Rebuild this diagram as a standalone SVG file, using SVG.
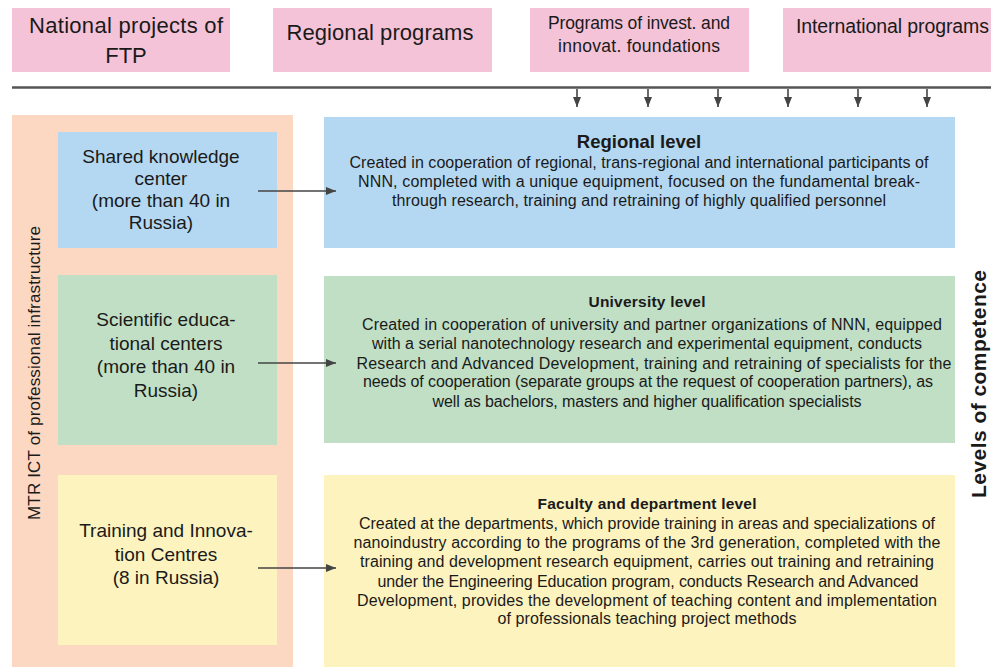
<svg xmlns="http://www.w3.org/2000/svg" width="991" height="667" viewBox="0 0 991 667">
  <defs>
    <marker id="ah" viewBox="0 0 10 8" refX="10" refY="4" markerWidth="10" markerHeight="8" markerUnits="userSpaceOnUse" orient="auto">
      <path d="M0,0 L10,4 L0,8 z" fill="#444"/>
    </marker>
    <style>
      text { font-family: "Liberation Sans", Arial, sans-serif; fill: #1a1a1a; }
      .src { fill: #f5c3d7; }
      .panel { fill: #fcd7c2; }
      .blue { fill: #b4d8f1; }
      .green { fill: #c0dfc5; }
      .yellow { fill: #fdf3bf; }
      .top { font-size: 22px; text-anchor: middle; }
      .topsm { font-size: 17.5px; text-anchor: middle; }
      .side { font-size: 19px; text-anchor: middle; }
      .title { font-size: 15.5px; font-weight: bold; text-anchor: middle; }
      .title-lg { font-size: 18.5px; font-weight: bold; text-anchor: middle; }
      .body { font-size: 16px; text-anchor: middle; }
      .vlab { font-size: 17px; text-anchor: middle; }
      .vlab-b { font-size: 21px; font-weight: bold; text-anchor: middle; }
      .conn { stroke: #444; stroke-width: 1.6; fill: none; marker-end: url(#ah); }
      .bar { stroke: #555; stroke-width: 2.6; }
    </style>
  </defs>

  <rect width="991" height="667" fill="#ffffff"/>

  <!-- funding sources -->
  <g id="src-ftp">
    <rect class="src" x="12" y="8" width="218" height="64"/>
    <text class="top" x="126" y="33" textLength="194">National projects of</text>
    <text class="top" x="126" y="63">FTP</text>
  </g>
  <g id="src-regional">
    <rect class="src" x="273" y="8" width="219" height="64"/>
    <text class="top" x="380" y="40" textLength="187">Regional programs</text>
  </g>
  <g id="src-foundations">
    <rect class="src" x="530" y="8" width="219" height="64"/>
    <text class="topsm" x="639" y="29" textLength="182">Programs of invest. and</text>
    <text class="topsm" x="639" y="52" textLength="162">innovat. foundations</text>
  </g>
  <g id="src-international">
    <rect class="src" x="783" y="8" width="208" height="64"/>
    <text x="796" y="33" font-size="19.5" textLength="193">International programs</text>
  </g>

  <!-- infrastructure column -->
  <g id="infrastructure">
    <rect class="panel" x="12" y="115" width="281" height="552"/>
    <text class="vlab" transform="translate(40,373) rotate(-90)" textLength="294">MTR ICT of professional infrastructure</text>
  </g>
  <g id="shared-knowledge">
    <rect class="blue" x="58" y="132" width="219" height="116"/>
    <text class="side" x="161" y="163">Shared knowledge</text>
    <text class="side" x="161" y="185">center</text>
    <text class="side" x="161" y="207">(more than 40 in</text>
    <text class="side" x="161" y="229">Russia)</text>
  </g>
  <g id="scientific-centers">
    <rect class="green" x="58" y="275" width="219" height="170"/>
    <text class="side" x="166" y="326">Scientific educa-</text>
    <text class="side" x="166" y="350">tional centers</text>
    <text class="side" x="166" y="373">(more than 40 in</text>
    <text class="side" x="166" y="397">Russia)</text>
  </g>
  <g id="training-centres">
    <rect class="yellow" x="58" y="475" width="219" height="170"/>
    <text class="side" x="166" y="537">Training and Innova-</text>
    <text class="side" x="166" y="561">tion Centres</text>
    <text class="side" x="166" y="584">(8 in Russia)</text>
  </g>

  <!-- competence levels -->
  <g id="regional-level">
    <rect class="blue" x="324" y="117" width="631" height="131"/>
    <text class="title-lg" x="639" y="148">Regional level</text>
    <text class="body" x="639" y="168" textLength="579">Created in cooperation of regional, trans-regional and international participants of</text>
    <text class="body" x="639" y="187" textLength="562">NNN, completed with a unique equipment, focused on the fundamental break-</text>
    <text class="body" x="639" y="206" textLength="494">through research, training and retraining of highly qualified personnel</text>
  </g>
  <g id="university-level">
    <rect class="green" x="324" y="276" width="631" height="167"/>
    <text class="title" x="647" y="307" textLength="117">University level</text>
    <text class="body" x="652" y="330" textLength="580">Created in cooperation of university and partner organizations of NNN, equipped</text>
    <text class="body" x="647" y="349" textLength="550">with a serial nanotechnology research and experimental equipment, conducts</text>
    <text class="body" x="654" y="369" textLength="595">Research and Advanced Development, training and retraining of specialists for the</text>
    <text class="body" x="648" y="387" textLength="570">needs of cooperation (separate groups at the request of cooperation partners), as</text>
    <text class="body" x="647" y="407" textLength="429">well as bachelors, masters and higher qualification specialists</text>
  </g>
  <g id="faculty-level">
    <rect class="yellow" x="324" y="475" width="631" height="192"/>
    <text class="title" x="647" y="509" textLength="219">Faculty and department level</text>
    <text class="body" x="647" y="529" textLength="576">Created at the departments, which provide training in areas and specializations of</text>
    <text class="body" x="647" y="548" textLength="587">nanoindustry according to the programs of the 3rd generation, completed with the</text>
    <text class="body" x="647" y="567" textLength="574">training and development research equipment, carries out training and retraining</text>
    <text class="body" x="648" y="587" textLength="541">under the Engineering Education program, conducts Research and Advanced</text>
    <text class="body" x="647" y="606" textLength="580">Development, provides the development of teaching content and implementation</text>
    <text class="body" x="647" y="624" textLength="299">of professionals teaching project methods</text>
  </g>
  <g id="competence-label">
    <text class="vlab-b" transform="translate(986,384) rotate(-90)" textLength="228">Levels of competence</text>
  </g>

  <!-- connectors -->
  <g id="connectors">
    <line class="bar" x1="12" y1="87.5" x2="991" y2="87.5"/>
    <line class="conn" x1="577" y1="89" x2="577" y2="107"/>
    <line class="conn" x1="648" y1="89" x2="648" y2="107"/>
    <line class="conn" x1="718" y1="89" x2="718" y2="107"/>
    <line class="conn" x1="788" y1="89" x2="788" y2="107"/>
    <line class="conn" x1="858" y1="89" x2="858" y2="107"/>
    <line class="conn" x1="927" y1="89" x2="927" y2="107"/>
    <line class="conn" x1="258" y1="191" x2="336" y2="191"/>
    <line class="conn" x1="258" y1="363" x2="336" y2="363"/>
    <line class="conn" x1="258" y1="568" x2="336" y2="568"/>
  </g>
</svg>
